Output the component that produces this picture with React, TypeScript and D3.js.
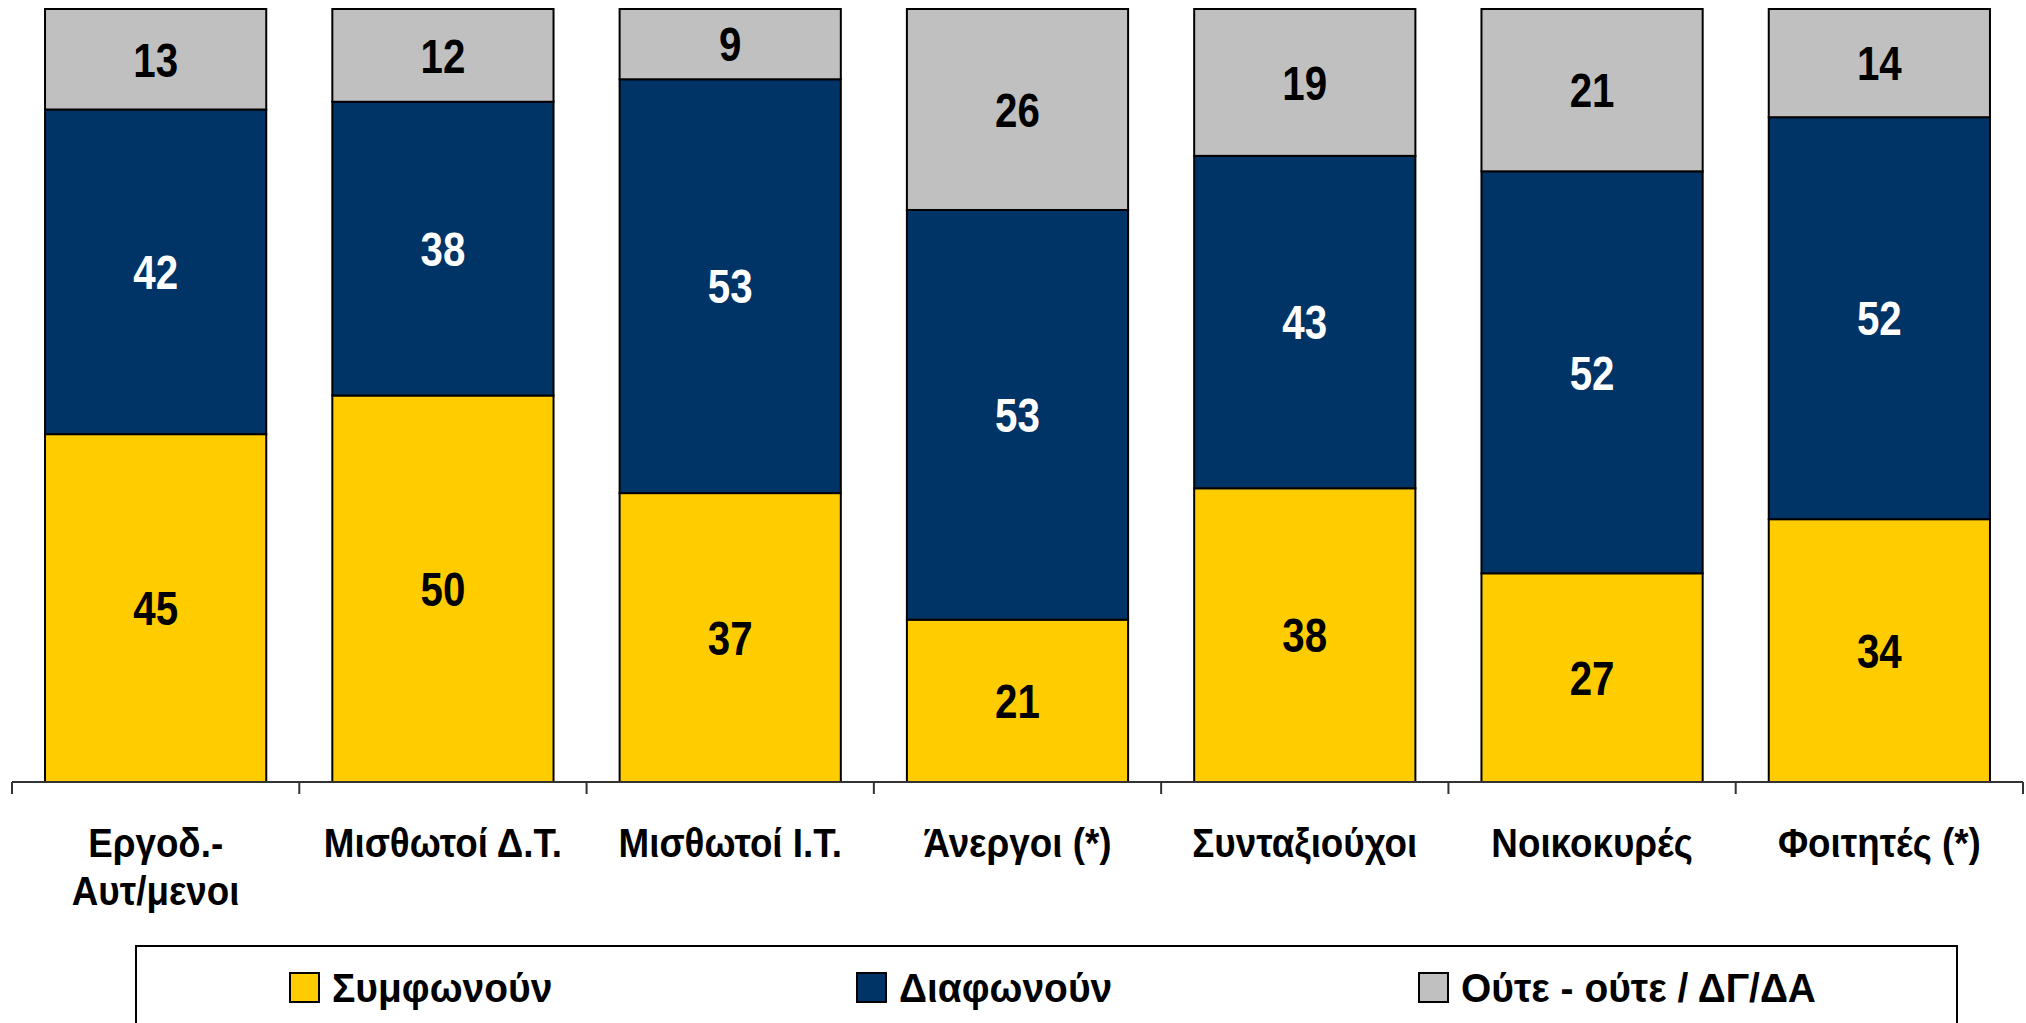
import { FC, useRef, useEffect } from 'react'
import * as d3 from 'd3'

const categories = [
  'Εργοδ.-|Αυτ/μενοι',
  'Μισθωτοί Δ.Τ.',
  'Μισθωτοί Ι.Τ.',
  'Άνεργοι (*)',
  'Συνταξιούχοι',
  'Νοικοκυρές',
  'Φοιτητές (*)',
]

const seriesNames = ['Συμφωνούν', 'Διαφωνούν', 'Ούτε - ούτε / ΔΓ/ΔΑ']
const agree = [45, 50, 37, 21, 38, 27, 34]
const disagree = [42, 38, 53, 53, 43, 52, 52]
const neither = [13, 12, 9, 26, 19, 21, 14]

const colors = ['#FFCC00', '#003366', '#C0C0C0']
const labelColors = ['#000000', '#FFFFFF', '#000000']

// no narrow font installed, so squeeze Liberation Sans horizontally
const FONT = "'Liberation Sans', Arial, sans-serif"

const StackedChart: FC = () => {
  const svgRef = useRef<SVGSVGElement>(null)

  useEffect(() => {
    if (!svgRef.current) return
    document.body.style.margin = '0'

    const svg = d3.select(svgRef.current)
    svg.selectAll('*').remove()

    const width = 2026
    const height = 1023
    const top = 9
    const baseline = 782

    svg.attr('width', width).attr('height', height)

    const rows = categories.map((c, i) => ({
      cat: c,
      s0: agree[i],
      s1: disagree[i],
      s2: neither[i],
    }))

    const keys = ['s0', 's1', 's2']
    const stacked = d3.stack<any>()
      .keys(keys)
      .offset(d3.stackOffsetExpand)(rows)

    const x = d3.scaleBand()
      .domain(categories)
      .range([12, 2023])
      .paddingInner(0.23)
      .paddingOuter(0.115)

    const y = d3.scaleLinear().domain([0, 1]).range([baseline, top])

    const g = svg.append('g')

    stacked.forEach((layer, li) => {
      g.selectAll(`.seg-${li}`)
        .data(layer)
        .join('rect')
        .attr('class', `seg-${li}`)
        .attr('x', d => x(d.data.cat) || 0)
        .attr('y', d => y(d[1]))
        .attr('width', x.bandwidth())
        .attr('height', d => y(d[0]) - y(d[1]))
        .attr('fill', colors[li])
        .attr('stroke', '#000')
        .attr('stroke-width', 2)

      g.selectAll(`.val-${li}`)
        .data(layer)
        .join('text')
        .attr('class', `val-${li}`)
        .attr('transform', d =>
          `translate(${(x(d.data.cat) || 0) + x.bandwidth() / 2},${(y(d[0]) + y(d[1])) / 2}) scale(0.84,1)`)
        .attr('dy', '0.36em')
        .attr('text-anchor', 'middle')
        .attr('fill', labelColors[li])
        .attr('font-family', FONT)
        .attr('font-weight', 'bold')
        .attr('font-size', '48px')
        .text(d => (d.data as any)[keys[li]])
    })

    // axis
    const step = x.step()
    const x0 = 12
    g.append('line')
      .attr('x1', x0).attr('x2', x0 + step * categories.length)
      .attr('y1', baseline).attr('y2', baseline)
      .attr('stroke', '#333').attr('stroke-width', 2)

    d3.range(categories.length + 1).forEach(i => {
      g.append('line')
        .attr('x1', x0 + i * step).attr('x2', x0 + i * step)
        .attr('y1', baseline).attr('y2', baseline + 12)
        .attr('stroke', '#333').attr('stroke-width', 2)
    })

    categories.forEach(c => {
      const lines = c.split('|')
      const t = g.append('text')
        .attr('transform', `translate(${(x(c) || 0) + x.bandwidth() / 2},857) scale(0.92,1)`)
        .attr('text-anchor', 'middle')
        .attr('font-family', FONT)
        .attr('font-weight', 'bold')
        .attr('font-size', '40px')
        .attr('fill', '#000')
      lines.forEach((l, li) => {
        t.append('tspan')
          .attr('x', 0)
          .attr('dy', li === 0 ? 0 : 48)
          .text(l)
      })
    })

    // legend
    g.append('rect')
      .attr('x', 136).attr('y', 946)
      .attr('width', 1957 - 136).attr('height', 120)
      .attr('fill', '#fff')
      .attr('stroke', '#000').attr('stroke-width', 2)

    const legendX = [290, 857, 1419]
    seriesNames.forEach((name, i) => {
      g.append('rect')
        .attr('x', legendX[i]).attr('y', 973)
        .attr('width', 29).attr('height', 29)
        .attr('fill', colors[i])
        .attr('stroke', '#000').attr('stroke-width', 2)
      g.append('text')
        .attr('transform', `translate(${legendX[i] + 42},1002) scale(0.95,1)`)
        .attr('font-family', FONT)
        .attr('font-weight', 'bold')
        .attr('font-size', '41px')
        .attr('fill', '#000')
        .text(name)
    })
  }, [])

  return <svg ref={svgRef} style={{ display: 'block' }} />
}

export default function App() {
  return <StackedChart />
}
